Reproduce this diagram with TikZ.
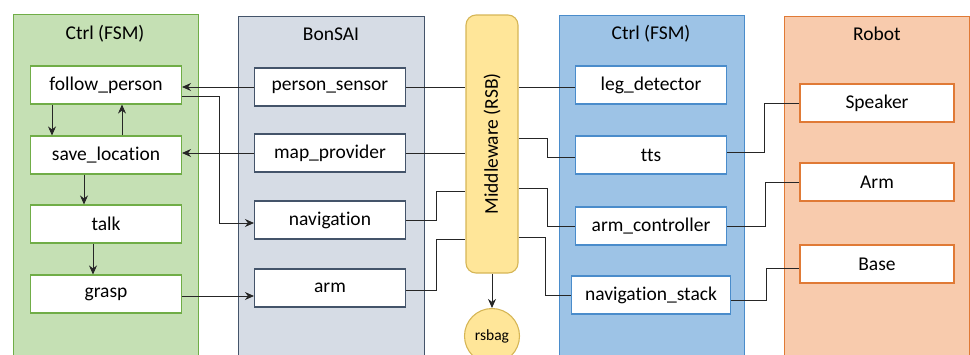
\documentclass[tikz,border=0pt]{standalone}
\usepackage{fontspec}
\setmainfont{Carlito}[Ligatures=NoCommon]
\usetikzlibrary{arrows.meta}

\definecolor{fsmfill}{HTML}{C5E0B4}
\definecolor{fsmline}{HTML}{70AD47}
\definecolor{bonfill}{HTML}{D6DCE5}
\definecolor{bonline}{HTML}{44546A}
\definecolor{ctrlfill}{HTML}{9DC3E6}
\definecolor{ctrlline}{HTML}{4A8CCB}
\definecolor{robfill}{HTML}{F8CBAD}
\definecolor{robline}{HTML}{E07A36}
\definecolor{mwfill}{HTML}{FFE699}
\definecolor{mwline}{HTML}{D6B656}

\begin{document}
\begin{tikzpicture}[x=1pt,y=-1pt,
        font=\fontsize{19.5}{22}\selectfont,
        box/.style={draw,line width=1.1pt,fill=white,minimum width=151pt,minimum height=38pt,inner sep=0pt},
        fsmbox/.style={box,draw=fsmline},
        bonbox/.style={box,draw=bonline},
        ctrlbox/.style={box,draw=ctrlline},
        robbox/.style={box,draw=robline,minimum width=154pt},
        link/.style={draw=black!85,line width=0.9pt},
        arr/.style={link,-{Stealth[length=9pt,width=8pt]}}
    ]

    \useasboundingbox (0,0) rectangle (970,354);
    \clip (0,0) rectangle (970,354);

    % panels
    \draw[fill=fsmfill,draw=fsmline,line width=1pt] (13,14) rectangle (198,370);
    \draw[fill=bonfill,draw=bonline,line width=1pt] (238,16) rectangle (424,370);
    \draw[fill=ctrlfill,draw=ctrlline,line width=1pt] (559,15) rectangle (744,370);
    \draw[fill=robfill,draw=robline,line width=1pt] (784,16) rectangle (969,370);

    \node (fsmtitle) at (105,34) {Ctrl (FSM)};
    \node (bontitle) at (331,34) {BonSAI};
    \node (ctrltitle) at (651,34) {Ctrl (FSM)};
    \node (robtitle) at (877,34) {Robot};

    % middleware
    \node[draw=mwline,fill=mwfill,line width=1.1pt,rounded corners=10pt,minimum width=52pt,minimum height=258pt] (mw) at (492,144) {};
    \node[rotate=90] (mwtext) at (mw.center) {Middleware (RSB)};
    \node[circle,draw=mwline,fill=mwfill,line width=1.1pt,minimum size=55pt,inner sep=0pt,font=\fontsize{15.5}{17}\selectfont] (rsbag) at (492,336) {rsbag};

    % state machine
    \node[fsmbox] (follow) at (106,85) {follow\_person};
    \node[fsmbox] (save) at (106,155) {save\_location};
    \node[fsmbox] (talk) at (106,224) {talk};
    \node[fsmbox] (grasp) at (106,294) {grasp};

    % bonsai
    \node[bonbox] (psensor) at (330,87) {person\_sensor};
    \node[bonbox] (mapprov) at (330,153) {map\_provider};
    \node[bonbox] (nav) at (330,220) {navigation};
    \node[bonbox] (arm) at (330,288) {arm};

    % ctrl
    \node[ctrlbox] (legdet) at (651,85) {leg\_detector};
    \node[ctrlbox] (tts) at (651,155) {tts};
    \node[ctrlbox] (armctrl) at (651,226) {arm\_controller};
    \node[ctrlbox,minimum width=159pt] (navstack) at (651,295) {navigation\_stack};

    % robot
    \node[robbox] (speaker) at (877,103) {Speaker};
    \node[robbox] (robarm) at (877,182) {Arm};
    \node[robbox] (base) at (877,264) {Base};

    % transitions
    \draw[arr] ([xshift=-54pt]follow.south) -- ([xshift=-54pt]save.north);
    \draw[arr] ([xshift=16pt]save.north) -- ([xshift=16pt]follow.south);
    \draw[arr] ([xshift=-22pt]save.south) -- ([xshift=-22pt]talk.north);
    \draw[arr] ([xshift=-13pt]talk.south) -- ([xshift=-13pt]grasp.north);

    % bonsai to fsm
    \draw[arr] (psensor.west) -- (psensor.west -| follow.east);
    \draw[arr] (mapprov.west) -- (mapprov.west -| save.east);
    \draw[arr] ([yshift=-11pt]follow.east) -- ++(37,0) |- ([yshift=-3pt]nav.west);
    \draw[arr] ([yshift=-2pt]grasp.east) -- ([yshift=-2pt]grasp.east -| arm.west);

    % bonsai to middleware
    \draw[link] (psensor.east) -- (psensor.east -| mw.west);
    \draw[link] (mapprov.east) -- (mapprov.east -| mw.west);
    \draw[link] (nav.east) -- ++(30,0) |- ([yshift=-47pt]mw.west);
    \draw[link] ([yshift=-2pt]arm.east) -- ++(30,0) |- ([yshift=-95pt]mw.west);

    % middleware to ctrl
    \draw[link] ([yshift=-2pt]legdet.west) -- ([yshift=-2pt]legdet.west -| mw.east);
    \draw[link] ([yshift=6pt]mw.east) -- ++(29,0) |- ([yshift=-2pt]tts.west);
    \draw[link] ([yshift=-44pt]mw.east) -- ++(29,0) |- (armctrl.west);
    \draw[link] ([yshift=-93pt]mw.east) -- ++(27,0) |- (navstack.west);
    \draw[arr] (mw.south) -- (rsbag.north);

    % ctrl to robot
    \draw[link] ([yshift=3pt]tts.east) -- ++(37,0) |- (speaker.west);
    \draw[link] (armctrl.east) -- ++(38,0) |- (robarm.west);
    \draw[link] ([yshift=-5pt]navstack.east) -- ++(35,0) |- ([yshift=-4pt]base.west);

\end{tikzpicture}
\end{document}
